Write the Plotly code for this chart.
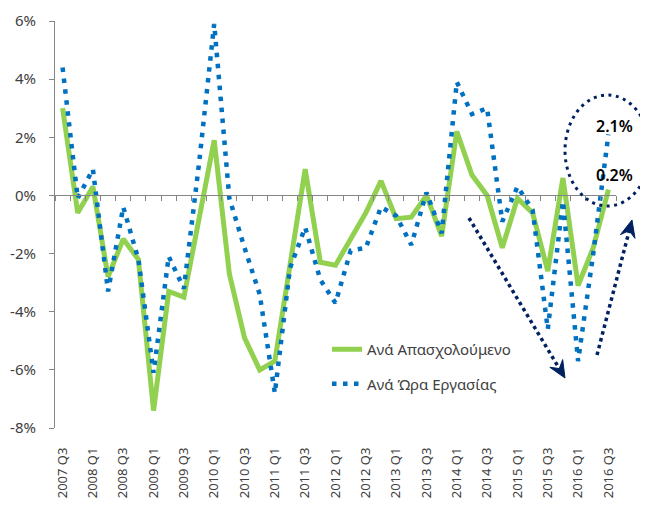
import plotly.graph_objects as go
import math

# ---- data ----
years_quarters = [(2007, 3), (2007, 4)] + [(y, q) for y in range(2008, 2016) for q in (1, 2, 3, 4)] + [(2016, 1), (2016, 2), (2016, 3)]
categories = [f"{y} Q{q}" for y, q in years_quarters]

per_employee = [3.0, -0.6, 0.3, -2.8, -1.5, -2.2, -7.4, -3.3, -3.5, -0.8, 1.9, -2.7, -4.9, -6.0,
                -5.7, -2.4, 0.9, -2.3, -2.4, -1.5, -0.6, 0.5, -0.8, -0.75, 0.0, -1.4, 2.2, 0.7,
                0.0, -1.8, -0.1, -0.6, -2.6, 0.6, -3.1, -1.8, 0.2]
per_hour = [4.4, -0.1, 0.9, -3.3, -0.4, -2.2, -6.1, -2.1, -3.2, 1.1, 5.9, -0.1, -1.8, -3.4,
            -6.8, -2.5, -1.1, -2.9, -3.7, -1.9, -1.8, -0.4, -0.7, -1.7, 0.1, -1.3, 3.9, 2.8,
            3.0, -0.9, 0.3, -0.5, -4.6, -0.2, -5.7, -2.0, 2.1]
series_names = ["Ανά Απασχολούμενο", "Ανά Ώρα Εργασίας"]
tick_labels = categories[::2]
y_ticks = [-8, -6, -4, -2, 0, 2, 4, 6]

# ---- layout geometry (screen pixels; page body has an 8px margin) ----
OFF = 8
W, H = 648 - OFF, 506 - OFF
L, R, T, B = 55, 616, 21, 428          # plot area on screen
FONT = "Noto Sans"
AXIS_GRAY = "#868686"
NAVY = "#002060"

def px_x(px):
    return (px - L) / (R - L)

def px_y(py):
    return (B - py) / (B - T)

fig = go.Figure()
fig.add_trace(go.Scatter(x=categories, y=per_employee, mode="lines", name=series_names[0],
                         line=dict(color="#92D050", width=5), legendgroup="a"))
fig.add_trace(go.Scatter(x=categories, y=per_hour, mode="lines", name=series_names[1],
                         line=dict(color="#0070C0", width=4.5, dash="4.5px,6.5px"), legendgroup="b"))
# helper trace for the zero-line axis with boundary ticks
fig.add_trace(go.Scatter(x=categories, y=per_employee, xaxis="x2", mode="lines",
                         line=dict(width=0), opacity=0, showlegend=False, hoverinfo="skip"))

shapes = []
# dotted ellipse
shapes.append(dict(type="circle", xref="paper", yref="paper",
                   x0=px_x(565), x1=px_x(650), y0=px_y(206), y1=px_y(95),
                   line=dict(color=NAVY, width=3, dash="3px,4.5px")))

def arrow(sx, sy, tx, ty):
    dx, dy = tx - sx, ty - sy
    ln = math.hypot(dx, dy)
    ux, uy = dx / ln, dy / ln
    nx, ny = -uy, ux
    hl, hw, notch = 17, 7.5, 11
    bx, by = tx - hl * ux, ty - hl * uy
    mx, my = tx - notch * ux, ty - notch * uy
    out = [dict(type="line", xref="paper", yref="paper",
                x0=px_x(sx), y0=px_y(sy), x1=px_x(mx), y1=px_y(my),
                line=dict(color=NAVY, width=3.5, dash="dot"))]
    pts = [(tx, ty), (bx + hw * nx, by + hw * ny), (mx, my), (bx - hw * nx, by - hw * ny)]
    path = "M " + " L ".join(f"{px_x(a):.5f},{px_y(b):.5f}" for a, b in pts) + " Z"
    out.append(dict(type="path", xref="paper", yref="paper", path=path,
                    fillcolor=NAVY, line=dict(color=NAVY, width=1)))
    return out

shapes += arrow(469, 218, 565, 378)
shapes += arrow(597, 355, 632, 220)

label_font = dict(family=FONT, size=16, color="#000000", weight=600)
annotations = [
    dict(x=categories[-1], y=per_hour[-1], xref="x", yref="y", text=f"{per_hour[-1]:.1f}%",
         showarrow=False, xshift=6, yshift=8, font=label_font),
    dict(x=categories[-1], y=per_employee[-1], xref="x", yref="y", text=f"{per_employee[-1]:.1f}%",
         showarrow=False, xshift=6, yshift=15, font=label_font),
]

fig.update_layout(
    width=W, height=H,
    margin=dict(l=L - OFF, r=W - (R - OFF), t=T - OFF, b=H - (B - OFF), pad=0, autoexpand=False),
    paper_bgcolor="white", plot_bgcolor="white",
    font=dict(family=FONT, size=14, color="#404040"),
    showlegend=True,
    legend=dict(x=px_x(327), y=px_y(333), xanchor="left", yanchor="top",
                bgcolor="rgba(0,0,0,0)", font=dict(family=FONT, size=15, color="#404040"),
                tracegroupgap=12, itemwidth=30),
    xaxis=dict(type="category", categoryorder="array", categoryarray=categories,
               range=[-0.5, len(categories) - 0.5], showgrid=False, zeroline=False,
               showline=False, ticks="", tickmode="array", tickvals=tick_labels,
               ticktext=tick_labels, tickangle=-90, ticklabelstandoff=16, automargin=False,
               tickfont=dict(family=FONT, size=13, color="#404040")),
    xaxis2=dict(type="category", categoryorder="array", categoryarray=categories,
                overlaying="x", anchor="free", position=8 / 14, side="bottom",
                range=[-0.5, len(categories) - 0.5], showgrid=False, zeroline=False,
                showline=True, linecolor=AXIS_GRAY, linewidth=1, automargin=False,
                ticks="outside", tickson="boundaries", ticklen=5, tickcolor=AXIS_GRAY,
                tickmode="linear", tick0=0, dtick=1, showticklabels=False),
    yaxis=dict(range=[-8, 6], tickvals=y_ticks, ticktext=[f"{v}%" for v in y_ticks],
               showgrid=False, zeroline=False, showline=True, linecolor=AXIS_GRAY,
               linewidth=1, ticks="outside", ticklen=5, tickcolor=AXIS_GRAY, automargin=False,
               ticklabelstandoff=10, tickfont=dict(family=FONT, size=15, color="#404040")),
    shapes=shapes,
    annotations=annotations,
)

fig.write_html("out.html")
